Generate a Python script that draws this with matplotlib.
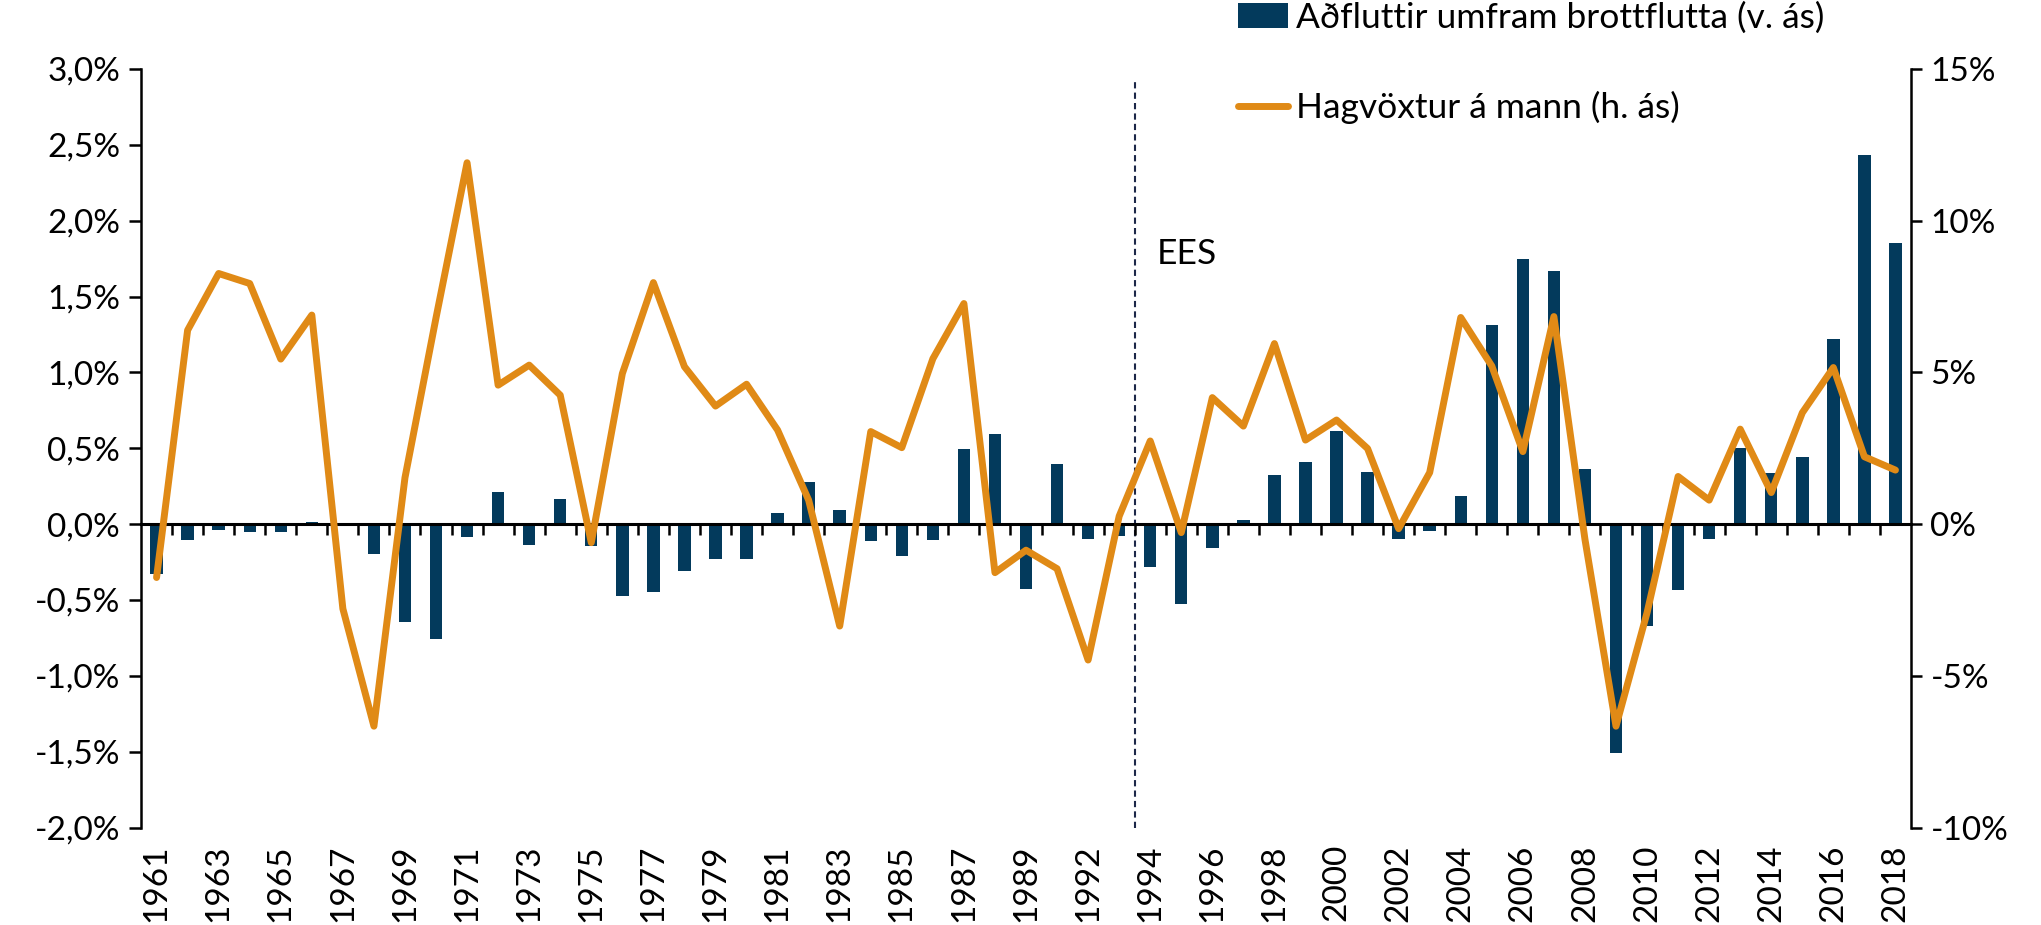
import matplotlib
matplotlib.use("Agg")
import matplotlib.pyplot as plt
import numpy as np

plt.rcParams['font.family'] = ['Lato', 'DejaVu Sans']

# Years on the axis (the source skips one year around 1990/1991)
years = [str(y) for y in range(1961, 1991)] + [str(y) for y in range(1992, 2019)]

# Net immigration, % of population (left axis)
migration = [-0.33, -0.105, -0.04, -0.05, -0.05, 0.015, 0.0, -0.195, -0.646, -0.76,
             -0.082, 0.21, -0.14, 0.165, -0.145,
             -0.475, -0.45, -0.31, -0.227, -0.23, 0.076, 0.28, 0.096, -0.112, -0.21,
             -0.105, 0.494, 0.593, -0.425,
             0.395, -0.096, -0.076, -0.28, -0.527, -0.16, 0.026, 0.323, 0.41, 0.613,
             0.343, -0.096, -0.043, 0.185,
             1.31, 1.75, 1.668, 0.363, -1.51, -0.67, -0.435, -0.096, 0.50, 0.34,
             0.44, 1.22, 2.43, 1.856]

# GDP growth per capita, % (right axis)
growth = [-1.76, 6.39, 8.26, 7.93, 5.44, 6.89, -2.79, -6.66, 1.53, 6.8,
          11.91, 4.58, 5.24, 4.25, -0.61,
          4.96, 7.96, 5.19, 3.89, 4.61, 3.10, 0.79, -3.36, 3.05, 2.52,
          5.45, 7.27, -1.60, -0.86,
          -1.47, -4.48, 0.26, 2.74, -0.28, 4.17, 3.23, 5.95, 2.77, 3.43,
          2.49, -0.15, 1.70, 6.81,
          5.21, 2.39, 6.84, -0.5, -6.66, -2.92, 1.57, 0.79, 3.13, 1.04,
          3.67, 5.16, 2.22, 1.78]

left_ticks = [-2.0, -1.5, -1.0, -0.5, 0.0, 0.5, 1.0, 1.5, 2.0, 2.5, 3.0]
right_ticks = [-10, -5, 0, 5, 10, 15]

bar_color = '#033a5c'
line_color = '#e08a16'
fs_leg = 25.5
fs_x = 24
fs_y = 24

x = np.arange(len(years))

fig = plt.figure(figsize=(20.41, 9.25), dpi=100)
ax = fig.add_axes([0.0691, 0.1054, 0.8672, 0.82])

bars = ax.bar(x, migration, width=0.4, color=bar_color, zorder=2,
              label='Aðfluttir umfram brottflutta (v. ás)')
ax.set_xlim(-0.5, len(years) - 0.5)
ax.set_ylim(-2.0, 3.0)
ax.set_yticks(left_ticks)
ax.set_yticklabels([f"{t:.1f}".replace('.', ',') + '%' for t in left_ticks], fontsize=fs_y)
ax.tick_params(axis='y', direction='out', length=9, width=1.8, pad=6)

# x axis line at zero with tick marks between categories
ax.spines['bottom'].set_position(('data', 0))
ax.spines['bottom'].set_linewidth(2.2)
ax.spines['top'].set_visible(False)
ax.spines['right'].set_visible(False)
ax.spines['left'].set_linewidth(1.8)
ax.set_xticks(x[:-1] + 0.5)
ax.set_xticklabels([])
ax.tick_params(axis='x', direction='out', length=8, width=1.8)

# year labels at the bottom
sec = ax.secondary_xaxis(0)
sec.set_xticks(x[::2])
sec.set_xticklabels(years[::2], rotation=90, fontsize=fs_x)
sec.tick_params(length=0, pad=12)
sec.spines['bottom'].set_visible(False)

# EES marker
ax.axvline(31.5, ymin=0, ymax=0.985, color='#1c2748', linestyle=(0, (3, 2)), linewidth=1.5, zorder=1)
ax.text(32.2, 1.78, 'EES', fontsize=fs_leg, ha='left', va='center')

ax2 = ax.twinx()
line, = ax2.plot(x, growth, color=line_color, linewidth=5, solid_joinstyle='round',
                 solid_capstyle='round', label='Hagvöxtur á mann (h. ás)', zorder=3)
ax2.set_ylim(-10, 15)
ax2.set_yticks(right_ticks)
ax2.set_yticklabels([f"{t}%" for t in right_ticks], fontsize=fs_y)
ax2.tick_params(axis='y', direction='out', length=8, width=1.8, pad=6)
ax2.spines['top'].set_visible(False)
ax2.spines['left'].set_visible(False)
ax2.spines['bottom'].set_visible(False)
ax2.spines['right'].set_linewidth(1.8)

fig.legend([bars, line], [bars.get_label(), line.get_label()],
           loc='upper left', bbox_to_anchor=(1238 / 2041, 1 - 2 / 925),
           frameon=False, fontsize=fs_leg, borderpad=0, borderaxespad=0,
           handlelength=1.4, handletextpad=0.25, labelspacing=1.6)

fig.savefig('out.png', dpi=100)
